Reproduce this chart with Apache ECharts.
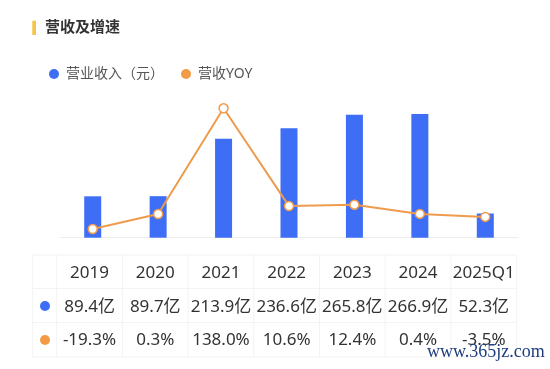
<!DOCTYPE html>
<html>
<head>
<meta charset="utf-8">
<style>
  html, body { margin: 0; padding: 0; background: #ffffff; }
  #chart { width: 550px; height: 369px; }
</style>
<script src="https://cdn.jsdelivr.net/npm/echarts@6/dist/echarts.min.js"></script>
</head>
<body>
<div id="chart"></div>
<script>
// ---- data ----
const categories = ['2019', '2020', '2021', '2022', '2023', '2024', '2025Q1'];
const revenue = [89.4, 89.7, 213.9, 236.6, 265.8, 266.9, 52.3];
const yoy = [-19.3, 0.3, 138.0, 10.6, 12.4, 0.4, -3.5];
const seriesNames = ['营业收入（元）', '营收YOY'];
const titleText = '营收及增速';
const watermark = 'www.365jz.com';

const revenueLabels = revenue.map(v => v.toFixed(1) + '亿');
const yoyLabels = yoy.map(v => v.toFixed(1) + '%');

// ---- styles ----
const BLUE = '#3D6EF5';
const ORANGE = '#EE9B4E';
const DOT_ORANGE = '#F39A45';
const FONT = '"Noto Sans", "Noto Sans CJK SC", sans-serif';

// ---- table graphic ----
const tblLeft = 32.7, dotColRight = 56.7, colW = (516.6 - 56.7) / 7;
const rowLines = [255, 288.5, 322.5, 357];
const rowText = [273, 307.5, 340];
const lineColor = '#f3f3f3';

const graphics = [];
// title marker
graphics.push({ type: 'rect', shape: { x: 32.3, y: 20.7, width: 3.7, height: 14.3 }, style: { fill: '#F5C54A' } });
graphics.push({ type: 'text', x: 45, y: 27.7, style: { text: titleText, fill: '#333', font: 'bold 15px ' + FONT, textVerticalAlign: 'middle', textAlign: 'left' } });

// horizontal lines
rowLines.forEach(y => {
  graphics.push({ type: 'line', shape: { x1: tblLeft, y1: y, x2: 516.6, y2: y }, style: { stroke: lineColor, lineWidth: 1 } });
});
// vertical lines
const vx = [tblLeft, dotColRight];
for (let i = 1; i <= categories.length; i++) vx.push(dotColRight + i * colW);
vx.forEach(x => {
  graphics.push({ type: 'line', shape: { x1: x, y1: rowLines[0], x2: x, y2: rowLines[3] }, style: { stroke: lineColor, lineWidth: 1 } });
});
// dots
graphics.push({ type: 'circle', shape: { cx: 45, cy: 306, r: 5 }, style: { fill: BLUE } });
graphics.push({ type: 'circle', shape: { cx: 45, cy: 340, r: 5 }, style: { fill: DOT_ORANGE } });
// texts
const rows = [categories, revenueLabels, yoyLabels];
rows.forEach((row, r) => {
  row.forEach((t, i) => {
    graphics.push({
      type: 'text',
      x: dotColRight + (i + 0.5) * colW,
      y: rowText[r],
      style: { text: t, fill: '#333', font: '17px ' + FONT, textAlign: 'center', textVerticalAlign: 'middle' }
    });
  });
});
// watermark
graphics.push({ type: 'text', x: 427, y: 352, style: { text: watermark, fill: '#1E3C80', font: '18px "Liberation Serif", serif', textAlign: 'left', textVerticalAlign: 'middle' } });

const chart = echarts.init(document.getElementById('chart'));
chart.setOption({
  animation: false,
  backgroundColor: '#ffffff',
  legend: {
    left: 44,
    top: 62,
    icon: 'circle',
    itemWidth: 14,
    itemHeight: 10,
    itemGap: 17,
    textStyle: { fontSize: 14, color: '#555', fontFamily: FONT },
    data: [
      { name: seriesNames[0], itemStyle: { color: BLUE } },
      { name: seriesNames[1], itemStyle: { color: DOT_ORANGE, borderWidth: 0 } }
    ]
  },
  grid: { left: 60, right: 32, top: 100, height: 137.7 },
  xAxis: {
    type: 'category',
    data: categories,
    boundaryGap: true,
    axisLine: { lineStyle: { color: '#eeeeee', width: 1 } },
    axisTick: { show: false },
    axisLabel: { show: false }
  },
  yAxis: [
    { type: 'value', min: 0, max: 297.4, show: false, splitLine: { show: false } },
    { type: 'value', min: -30.6, max: 148.8, show: false, splitLine: { show: false } }
  ],
  series: [
    {
      name: seriesNames[0],
      type: 'bar',
      data: revenue,
      barWidth: 17,
      itemStyle: { color: BLUE },
      yAxisIndex: 0
    },
    {
      name: seriesNames[1],
      type: 'line',
      data: yoy,
      yAxisIndex: 1,
      symbol: 'circle',
      symbolSize: 9,
      color: ORANGE,
      lineStyle: { color: ORANGE, width: 2 },
      itemStyle: { color: '#ffffff', borderColor: ORANGE, borderWidth: 1.5 },
      z: 3
    }
  ],
  graphic: graphics
});
</script>
</body>
</html>
